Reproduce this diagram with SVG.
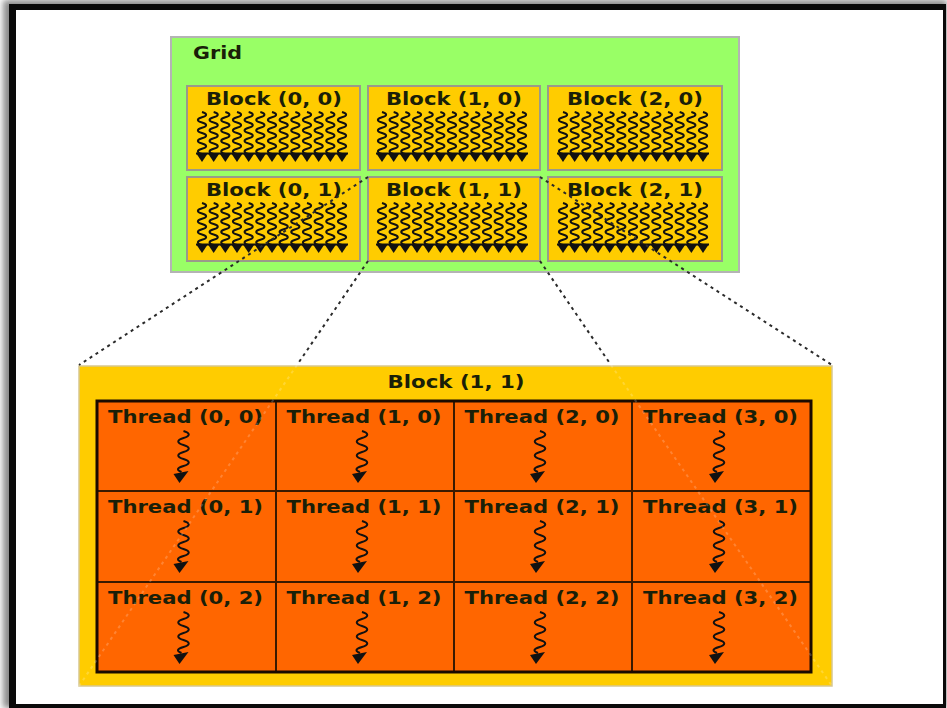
<svg xmlns="http://www.w3.org/2000/svg" width="947" height="708" viewBox="0 0 947 708">
  <defs>
    <filter id="soft" x="-5%" y="-5%" width="110%" height="110%">
      <feGaussianBlur stdDeviation="3"/>
    </filter>
    <style>
      .lbl { font-family: "DejaVu Sans", Verdana, sans-serif; font-weight: bold; font-size: 17px; fill: #1a1f08; text-anchor: middle; }
      .grid { fill: #99ff66; stroke: #b4b4b4; stroke-width: 2; }
      .blk { fill: #ffcc00; stroke: #9a9a8a; stroke-width: 2; }
      .big { fill: #ffcc00; stroke: #d8c890; stroke-width: 1.5; }
      .cell { fill: #ff6600; stroke: #3a1a00; stroke-width: 2; }
      .wave { fill: none; stroke: #111; stroke-width: 2; stroke-linejoin: round; }
      .head { fill: #111; }
      .dash { fill: none; stroke: #2a2a2a; stroke-width: 2; stroke-dasharray: 3 4; }
      .faint { fill: none; stroke: #ffffff; stroke-opacity: 0.2; stroke-width: 2; stroke-dasharray: 3 4; }
    </style>
    <!-- one small thread: zigzag line with a downward head -->
    <g id="tiny">
      <path class="wave" d="M0,0 c5.5,1.5 5.5,3.75 0,5.25 c-5.5,1.5 -5.5,3.75 0,5.25 c5.5,1.5 5.5,3.75 0,5.25 c-5.5,1.5 -5.5,3.75 0,5.25 c5.5,1.5 5.5,3.75 0,5.25 c-5.5,1.5 -5.5,3.75 0,5.25 c5.5,1.5 5.5,3.75 0,5.25 c-5.5,1.5 -5.5,3.75 0,5.25"/>
      <path class="head" d="M-6,41 L6,41 L0,50 Z"/>
    </g>
    <!-- row of 13 threads inside a small block, centred on x=0 -->
    <g id="threads">
      <use href="#tiny" x="-70"/>
      <use href="#tiny" x="-58.33"/>
      <use href="#tiny" x="-46.67"/>
      <use href="#tiny" x="-35"/>
      <use href="#tiny" x="-23.33"/>
      <use href="#tiny" x="-11.67"/>
      <use href="#tiny" x="0"/>
      <use href="#tiny" x="11.67"/>
      <use href="#tiny" x="23.33"/>
      <use href="#tiny" x="35"/>
      <use href="#tiny" x="46.67"/>
      <use href="#tiny" x="58.33"/>
      <use href="#tiny" x="70"/>
      <rect x="-76" y="40.5" width="152" height="2" fill="#111"/>
    </g>
    <!-- single thread arrow in the enlarged block -->
    <g id="thr">
      <path class="wave" d="M1,0 c7,2 7,5 0,7 c-7,2 -7,5 0,7 c7,2 7,5 0,7 c-7,2 -7,5 0,7 c7,2 7,5 0,7 c-7,2 -7,4 -2,6"/>
      <path class="head" d="M-9,43 L6,40 L-3,52 Z"/>
    </g>
  </defs>

  <!-- page frame -->
  <rect x="3" y="0" width="944" height="708" fill="#8a8a8a" filter="url(#soft)"/>
  <rect x="9" y="4" width="937" height="704" fill="#0a0a0a"/>
  <rect x="16" y="10" width="927" height="694" fill="#ffffff"/>

  <!-- grid -->
  <g id="grid">
    <rect class="grid" x="171" y="37" width="568" height="235"/>
    <text class="lbl" x="217.5" y="59" font-size="16" textLength="49" lengthAdjust="spacingAndGlyphs">Grid</text>
  </g>

  <g id="block-0-0">
    <rect class="blk" x="187" y="86" width="173" height="84"/>
    <text class="lbl" x="274" y="105" textLength="136" lengthAdjust="spacingAndGlyphs">Block (0, 0)</text>
    <use href="#threads" x="272" y="112"/>
  </g>
  <g id="block-1-0">
    <rect class="blk" x="368" y="86" width="172" height="84"/>
    <text class="lbl" x="454" y="105" textLength="136" lengthAdjust="spacingAndGlyphs">Block (1, 0)</text>
    <use href="#threads" x="452" y="112"/>
  </g>
  <g id="block-2-0">
    <rect class="blk" x="548" y="86" width="174" height="84"/>
    <text class="lbl" x="635" y="105" textLength="136" lengthAdjust="spacingAndGlyphs">Block (2, 0)</text>
    <use href="#threads" x="633" y="112"/>
  </g>
  <g id="block-0-1">
    <rect class="blk" x="187" y="177" width="173" height="84"/>
    <text class="lbl" x="274" y="196" textLength="136" lengthAdjust="spacingAndGlyphs">Block (0, 1)</text>
    <use href="#threads" x="272" y="203"/>
  </g>
  <g id="block-1-1">
    <rect class="blk" x="368" y="177" width="172" height="84"/>
    <text class="lbl" x="454" y="196" textLength="136" lengthAdjust="spacingAndGlyphs">Block (1, 1)</text>
    <use href="#threads" x="452" y="203"/>
  </g>
  <g id="block-2-1">
    <rect class="blk" x="548" y="177" width="174" height="84"/>
    <text class="lbl" x="635" y="196" textLength="136" lengthAdjust="spacingAndGlyphs">Block (2, 1)</text>
    <use href="#threads" x="633" y="203"/>
  </g>

  <!-- enlarged block -->
  <g id="block-detail">
    <rect class="big" x="79" y="366" width="753" height="320"/>
    <text class="lbl" x="456" y="388" textLength="137" lengthAdjust="spacingAndGlyphs">Block (1, 1)</text>
  </g>

  <g id="thread-0-0"><rect class="cell" x="97" y="401" width="179" height="90"/><text class="lbl" x="185.5" y="423" textLength="155" lengthAdjust="spacingAndGlyphs">Thread (0, 0)</text><use href="#thr" x="182.5" y="431"/></g>
  <g id="thread-1-0"><rect class="cell" x="276" y="401" width="178" height="90"/><text class="lbl" x="364" y="423" textLength="155" lengthAdjust="spacingAndGlyphs">Thread (1, 0)</text><use href="#thr" x="361" y="431"/></g>
  <g id="thread-2-0"><rect class="cell" x="454" y="401" width="178" height="90"/><text class="lbl" x="542" y="423" textLength="155" lengthAdjust="spacingAndGlyphs">Thread (2, 0)</text><use href="#thr" x="539" y="431"/></g>
  <g id="thread-3-0"><rect class="cell" x="632" y="401" width="179" height="90"/><text class="lbl" x="720.5" y="423" textLength="155" lengthAdjust="spacingAndGlyphs">Thread (3, 0)</text><use href="#thr" x="718" y="431"/></g>

  <g id="thread-0-1"><rect class="cell" x="97" y="491" width="179" height="91"/><text class="lbl" x="185.5" y="513" textLength="155" lengthAdjust="spacingAndGlyphs">Thread (0, 1)</text><use href="#thr" x="182.5" y="521"/></g>
  <g id="thread-1-1"><rect class="cell" x="276" y="491" width="178" height="91"/><text class="lbl" x="364" y="513" textLength="155" lengthAdjust="spacingAndGlyphs">Thread (1, 1)</text><use href="#thr" x="361" y="521"/></g>
  <g id="thread-2-1"><rect class="cell" x="454" y="491" width="178" height="91"/><text class="lbl" x="542" y="513" textLength="155" lengthAdjust="spacingAndGlyphs">Thread (2, 1)</text><use href="#thr" x="539" y="521"/></g>
  <g id="thread-3-1"><rect class="cell" x="632" y="491" width="179" height="91"/><text class="lbl" x="720.5" y="513" textLength="155" lengthAdjust="spacingAndGlyphs">Thread (3, 1)</text><use href="#thr" x="718" y="521"/></g>

  <g id="thread-0-2"><rect class="cell" x="97" y="582" width="179" height="90"/><text class="lbl" x="185.5" y="604" textLength="155" lengthAdjust="spacingAndGlyphs">Thread (0, 2)</text><use href="#thr" x="182.5" y="612"/></g>
  <g id="thread-1-2"><rect class="cell" x="276" y="582" width="178" height="90"/><text class="lbl" x="364" y="604" textLength="155" lengthAdjust="spacingAndGlyphs">Thread (1, 2)</text><use href="#thr" x="361" y="612"/></g>
  <g id="thread-2-2"><rect class="cell" x="454" y="582" width="178" height="90"/><text class="lbl" x="542" y="604" textLength="155" lengthAdjust="spacingAndGlyphs">Thread (2, 2)</text><use href="#thr" x="539" y="612"/></g>
  <g id="thread-3-2"><rect class="cell" x="632" y="582" width="179" height="90"/><text class="lbl" x="720.5" y="604" textLength="155" lengthAdjust="spacingAndGlyphs">Thread (3, 2)</text><use href="#thr" x="718" y="612"/></g>

  <!-- heavier outline round the thread table -->
  <rect x="97" y="401" width="714" height="271" fill="none" stroke="#1a0a00" stroke-width="3"/>

  <!-- zoom lines from Block (1, 1) to its enlarged view -->
  <g id="connectors">
    <path class="dash" d="M368,177 L79,365"/>
    <path class="dash" d="M540,177 L832,365"/>
    <path class="dash" d="M368,261 L297,365"/>
    <path class="dash" d="M540,261 L611,365"/>
    <path class="faint" d="M297,365 L79,686"/>
    <path class="faint" d="M611,365 L832,686"/>
  </g>
</svg>
